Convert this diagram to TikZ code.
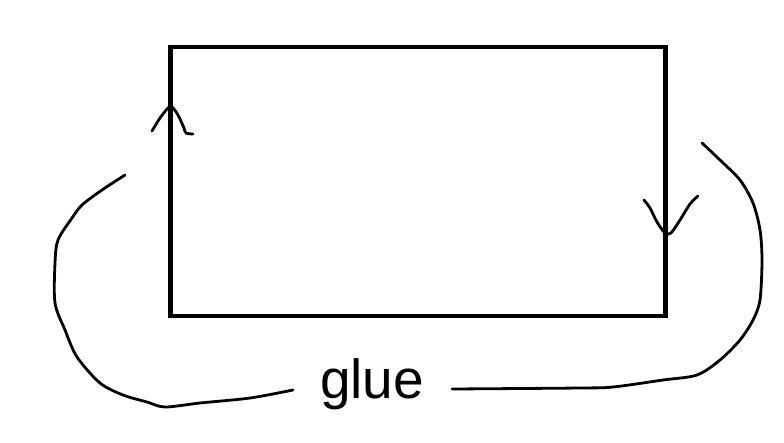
\documentclass[tikz,border=0pt]{standalone}
\usepackage{fontspec}
\setmainfont{Liberation Sans}
\tikzset{
  pen/.style={line width=2.8pt, line cap=round, line join=round},
  sheet/.style={draw, line width=4.6pt, minimum width=495pt, minimum height=269pt, inner sep=0pt},
}
\begin{document}
\begin{tikzpicture}[x=1pt, y=-1pt]
  \useasboundingbox (0,0) rectangle (784,442);

  % Rechteck
  \node[sheet] (box) at (417.8,181.5) {};

  % Beschriftung
  \node[anchor=base, font=\fontsize{55}{66}\selectfont, inner sep=0pt] (glue) at (372,398) {glue};

  % freie Enden
  \coordinate (lstart) at (125,175);
  \coordinate (rstart) at (702,143);
  \coordinate (lend) at (293,390);
  \coordinate (rend) at (452,389);

  % Pfeilspitzen am Rand
  \draw[pen] plot[smooth] coordinates {(152,131) (160,118) (168,108) (172,107) (178,115) (184,128) (186,133) (193,134)};
  \draw[pen] plot[smooth] coordinates {(644,200) (650,208) (657,222) (665,233) (671,233) (680,220) (690,204) (698,196)};

  % linker Bogen
  \draw[pen] plot[smooth] coordinates {(lstart) (102,190) (82,205) (72,218) (58,240) (55,263) (55,303) (65,330) (77,357) (100,383) (123,395) (147,402) (165,407) (200,403) (250,398) (lend)};

  % rechter Bogen
  \draw[pen] plot[smooth] coordinates {(rstart) (720,160) (740,180) (753,203) (760,230) (762,260) (760,300) (753,320) (740,340) (720,360) (697,375) (663,380) (613,387) (580,388) (rend)};
\end{tikzpicture}
\end{document}
